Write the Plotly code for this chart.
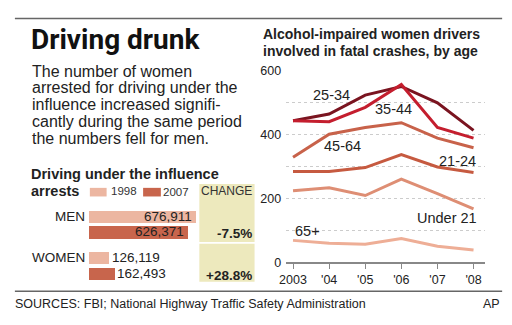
import plotly.graph_objects as go

W, H = 512, 325

# ---- Data ----
years = [2003, 2004, 2005, 2006, 2007, 2008]
year_labels = ["2003", "'04", "'05", "'06", "'07", "'08"]

age_groups = ["25-34", "35-44", "45-64", "21-24", "Under 21", "65+"]
v_25_34 = [442, 463, 522, 549, 498, 412]
v_35_44 = [442, 439, 484, 555, 421, 388]
v_45_64 = [328, 400, 421, 436, 388, 358]
v_21_24 = [284, 284, 296, 337, 298, 281]
v_under21 = [224, 233, 209, 260, 215, 167]
v_65plus = [69, 60, 57, 75, 51, 39]
series_values = [v_25_34, v_35_44, v_45_64, v_21_24, v_under21, v_65plus]
line_colors = ["#7a1420", "#c41e2e", "#c8624a", "#c65a40", "#de8e74", "#eeae96"]
label_pos = [(2004.07, 522), (2005.79, 478), (2004.37, 364), (2007.56, 316), (2007.26, 140), (2003.41, 99)]

y_tick_vals = [0, 100, 200, 300, 400, 500, 600]
y_tick_text = ["0", "", "200", "", "400", "", "600"]

groups = ["MEN", "WOMEN"]
arrests_1998 = [676911, 126119]
arrests_2007 = [626371, 162493]
change_labels = ["-7.5%", "+28.8%"]
bar_pos_1998 = [0, 2.65]
bar_pos_2007 = [1, 3.65]
c1998 = "#ecb6a1"
c2007 = "#c8654c"

FONT = "Liberation Sans, Arial, sans-serif"

def px(x):
    return x / W

def py(y):
    return 1 - y / H

fig = go.Figure()

for name, vals, col in zip(age_groups, series_values, line_colors):
    fig.add_trace(go.Scatter(x=years, y=vals, mode="lines", name=name,
                             line=dict(color=col, width=3), xaxis="x", yaxis="y",
                             showlegend=False, hoverinfo="skip"))

annotations = []
for name, (lx, ly) in zip(age_groups, label_pos):
    annotations.append(dict(x=lx, y=ly, xref="x", yref="y", text=name, showarrow=False,
                            font=dict(family=FONT, size=14.5, color="#222")))

fig.add_trace(go.Bar(y=bar_pos_1998, x=arrests_1998, orientation="h", marker=dict(color=c1998, line=dict(width=0)),
                     width=0.8, xaxis="x2", yaxis="y2", showlegend=False, hoverinfo="skip"))
fig.add_trace(go.Bar(y=bar_pos_2007, x=arrests_2007, orientation="h", marker=dict(color=c2007, line=dict(width=0)),
                     width=0.8, xaxis="x2", yaxis="y2", showlegend=False, hoverinfo="skip"))

for i, g in enumerate(groups):
    inside = i == 0
    for val, pos in ((arrests_1998[i], bar_pos_1998[i]), (arrests_2007[i], bar_pos_2007[i])):
        annotations.append(dict(x=val, y=pos, xref="x2", yref="y2", text=f"{val:,}", showarrow=False,
                                xanchor="right" if inside else "left", align="right" if inside else "left",
                                xshift=-1 if inside else 1, yshift=1,
                                font=dict(family=FONT, size=13.5, color="#222")))
    annotations.append(dict(x=0, y=bar_pos_1998[i], xref="x2", yref="y2", text=g, showarrow=False,
                            xanchor="right", align="right", xshift=-2, yshift=1,
                            font=dict(family=FONT, size=13.5, color="#222")))
    annotations.append(dict(x=px(250), y=bar_pos_2007[i], xref="paper", yref="y2", text=f"<b>{change_labels[i]}</b>",
                            showarrow=False, xanchor="right", align="right", yshift=-1,
                            font=dict(family=FONT, size=13.5, color="#222")))

def txt(x, y, s, size, bold=False, anchor="left", family=FONT, color="#222"):
    annotations.append(dict(x=px(x), y=py(y), xref="paper", yref="paper", text=f"<b>{s}</b>" if bold else s,
                            showarrow=False, xanchor=anchor, yanchor="middle", align=anchor,
                            font=dict(family=family, size=size, color=color)))

txt(22, 34, "Driving drunk", 28, bold=True, family="Roboto, Liberation Sans, sans-serif", color="#111")
body = ["The number of women", "arrested for driving under the", "influence increased signifi-",
        "cantly during the same period", "the numbers fell for men."]
for k, line in enumerate(body):
    txt(23, 67 + k * 17.6, line, 16)
txt(22, 175, "Driving under the influence", 14.5, bold=True)
txt(22, 192, "arrests", 14.5, bold=True)
txt(103, 192, "1998", 11.5, color="#333")
txt(156, 193, "2007", 11.5, color="#333")
txt(223, 192, "CHANGE", 12, anchor="center", color="#333")
txt(258, 28, "Alcohol-impaired women drivers", 14, bold=True)
txt(258, 46, "involved in fatal crashes, by age", 14, bold=True)
txt(6, 310, "SOURCES: FBI; National Highway Traffic Safety Administration", 12.5, color="#222")
txt(502, 310, "AP", 12.5, anchor="right", color="#222")

shapes = [
    dict(type="line", xref="paper", yref="paper", x0=px(8), x1=px(502), y0=py(12), y1=py(12),
         line=dict(color="#666", width=1.5)),
    dict(type="line", xref="paper", yref="paper", x0=px(8), x1=px(502), y0=py(297), y1=py(297),
         line=dict(color="#666", width=1.5)),
    dict(type="rect", xref="paper", yref="paper", x0=px(195), x1=px(251), y0=py(185), y1=py(245.5),
         fillcolor="#ede9bd", line=dict(width=0), layer="below"),
    dict(type="rect", xref="paper", yref="paper", x0=px(195), x1=px(251), y0=py(247.5), y1=py(287),
         fillcolor="#ede9bd", line=dict(width=0), layer="below"),
    dict(type="rect", xref="paper", yref="paper", x0=px(84), x1=px(101), y0=py(189), y1=py(198),
         fillcolor=c1998, line=dict(width=0)),
    dict(type="rect", xref="paper", yref="paper", x0=px(138), x1=px(156), y0=py(189), y1=py(198),
         fillcolor=c2007, line=dict(width=0)),
]

yr_per_px = 1 / 36.6
fig.update_layout(
    width=W, height=H, margin=dict(l=0, r=0, t=0, b=0),
    paper_bgcolor="white", plot_bgcolor="rgba(0,0,0,0)",
    annotations=annotations, shapes=shapes, bargap=0,
    xaxis=dict(domain=[px(283), px(485)], range=[2003 - 7 * yr_per_px, 2008 + 12 * yr_per_px],
               tickvals=years, ticktext=year_labels, ticks="outside", ticklen=5, tickcolor="#888",
               showline=True, linecolor="#888", linewidth=1.5, showgrid=False, zeroline=False,
               tickfont=dict(family=FONT, size=12.5, color="#222"), fixedrange=True),
    yaxis=dict(domain=[py(267), py(66)], range=[0, 600], tickvals=y_tick_vals, ticktext=y_tick_text,
               showgrid=True, gridcolor="#cccccc", griddash="dot", gridwidth=1, zeroline=False,
               ticks="", ticklabelstandoff=4, tickfont=dict(family=FONT, size=12.5, color="#222"), fixedrange=True),
    xaxis2=dict(domain=[px(83), px(195)], range=[0, 112 * 6268], visible=False, fixedrange=True),
    yaxis2=dict(domain=[py(288), py(211.35)], range=[4.2, -0.5], visible=False, fixedrange=True),
)

fig.write_html("out.html")
